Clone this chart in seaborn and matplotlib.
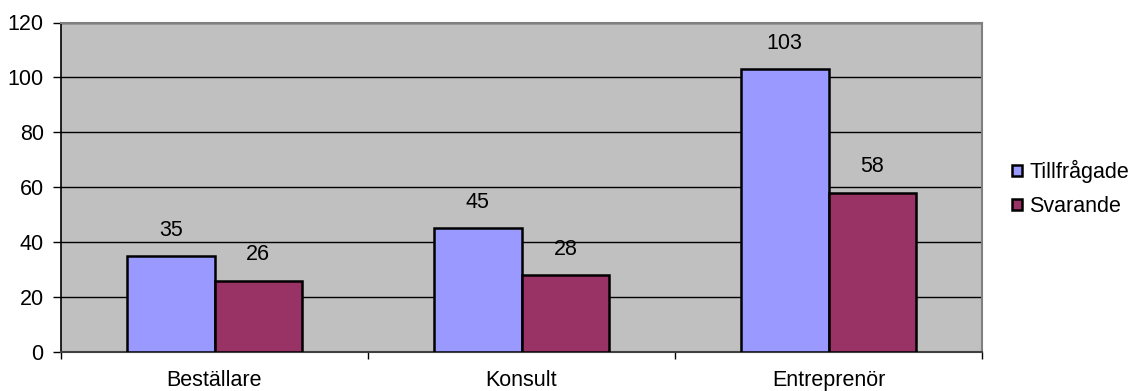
import matplotlib
matplotlib.use("Agg")
import matplotlib.pyplot as plt
import seaborn as sns
import pandas as pd
from matplotlib.ticker import FixedLocator

categories = ["Beställare", "Konsult", "Entreprenör"]
series_names = ["Tillfrågade", "Svarande"]
tillfragade = [35, 45, 103]
svarande = [26, 28, 58]
y_ticks = [0, 20, 40, 60, 80, 100, 120]

colors = ["#9999FF", "#993366"]

df = pd.DataFrame({
    "Grupp": categories * 2,
    "Serie": [series_names[0]] * 3 + [series_names[1]] * 3,
    "Antal": tillfragade + svarande,
})

sns.set_style("white")
plt.rcParams["font.family"] = ["Liberation Sans", "DejaVu Sans"]
plt.rcParams["text.color"] = "black"
plt.rcParams["xtick.color"] = "black"
plt.rcParams["ytick.color"] = "black"
plt.rcParams["axes.labelcolor"] = "black"
FS = 15.5

fig = plt.figure(figsize=(11.33, 3.91), dpi=100)
ax = fig.add_axes([61 / 1133, 1 - 352 / 391, (982 - 61) / 1133, (352 - 22.5) / 391])
ax.set_facecolor("#C0C0C0")

sns.barplot(data=df, x="Grupp", y="Antal", hue="Serie", order=categories,
            hue_order=series_names, palette=colors, width=0.5714, gap=0,
            edgecolor="black", linewidth=1.8, saturation=1, ax=ax, zorder=3)

for cont in ax.containers:
    ax.bar_label(cont, padding=11, fontsize=FS, color="black")

ax.set_xlim(-0.5, 2.5)
ax.set_ylim(0, 120)
ax.set_yticks(y_ticks)
ax.yaxis.grid(True, color="black", linewidth=1.0, zorder=0)
ax.set_axisbelow(True)
ax.set_xlabel("")
ax.set_ylabel("")

ax.tick_params(axis="y", which="major", direction="out", length=5.5, width=1,
               color="black", labelsize=FS, labelcolor="black", pad=7, left=True)
ax.tick_params(axis="x", which="major", length=0, labelsize=FS,
               labelcolor="black", pad=13)
ax.xaxis.set_minor_locator(FixedLocator([-0.5, 0.5, 1.5, 2.5]))
ax.tick_params(axis="x", which="minor", direction="out", length=5, width=1,
               color="black", bottom=True)

for side in ["top", "right"]:
    ax.spines[side].set_color("#808080")
    ax.spines[side].set_linewidth(1.5)
ax.spines["left"].set_color("black")
ax.spines["left"].set_linewidth(1.2)
ax.spines["bottom"].set_color("#404040")
ax.spines["bottom"].set_linewidth(1.5)

handles, labels = ax.get_legend_handles_labels()
if ax.legend_:
    ax.legend_.remove()
fig.legend(handles, labels, loc="center left",
           bbox_to_anchor=(1012 / 1133, 1 - 188.5 / 391),
           frameon=False, fontsize=FS, handlelength=0.45, handleheight=0.45,
           handletextpad=0.35, labelspacing=0.6, borderaxespad=0, borderpad=0)

fig.savefig("out.png", dpi=100)
